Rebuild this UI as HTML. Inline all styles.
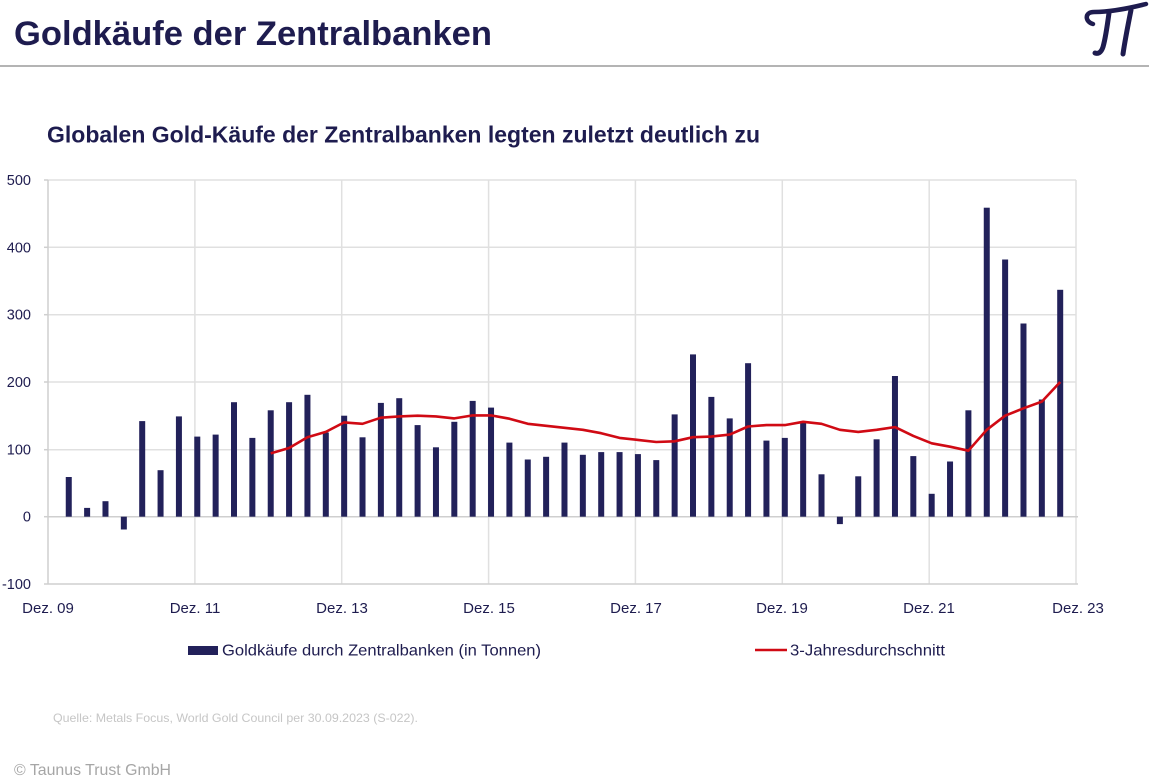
<!DOCTYPE html>
<html><head><meta charset="utf-8"><style>
html,body{margin:0;padding:0;background:#fff;}
svg{display:block;}
</style></head><body>
<svg width="1149" height="783" viewBox="0 0 1149 783" xmlns="http://www.w3.org/2000/svg" font-family="'Liberation Sans', sans-serif">
<rect width="1149" height="783" fill="#fff"/>
<text x="14" y="45" font-size="34" font-weight="bold" fill="#1e1c4f" textLength="478" lengthAdjust="spacingAndGlyphs">Goldkäufe der Zentralbanken</text>
<g fill="none" stroke="#1e1c4f" stroke-linecap="round">
<path d="M1093,24 C1085,22 1084,12 1094,12 C1112,12 1130,8 1146,4" stroke-width="4.5"/>
<path d="M1109,13 C1107,28 1105,40 1103,47 C1101,53 1098,54 1095,53" stroke-width="5"/>
<path d="M1131,10 C1128,25 1125,40 1123,54" stroke-width="5"/>
</g>
<rect x="0" y="65" width="1149" height="2" fill="#b4b4b4"/>
<text x="47" y="142.7" font-size="23" font-weight="bold" fill="#1e1c4f" textLength="713" lengthAdjust="spacingAndGlyphs">Globalen Gold-Käufe der Zentralbanken legten zuletzt deutlich zu</text>
<g stroke="#e0e0e0" stroke-width="1.5">
<line x1="48" y1="180" x2="1076" y2="180"/>
<line x1="48" y1="247.3" x2="1076" y2="247.3"/>
<line x1="48" y1="314.7" x2="1076" y2="314.7"/>
<line x1="48" y1="382" x2="1076" y2="382"/>
<line x1="48" y1="449.7" x2="1076" y2="449.7"/>
<line x1="194.9" y1="180" x2="194.9" y2="584"/>
<line x1="341.7" y1="180" x2="341.7" y2="584"/>
<line x1="488.6" y1="180" x2="488.6" y2="584"/>
<line x1="635.4" y1="180" x2="635.4" y2="584"/>
<line x1="782.3" y1="180" x2="782.3" y2="584"/>
<line x1="929.2" y1="180" x2="929.2" y2="584"/>
<line x1="1076" y1="180" x2="1076" y2="584"/>
</g>
<g stroke="#cfcfcf" stroke-width="1.5">
<line x1="48" y1="516.7" x2="1078" y2="516.7"/>
<line x1="48" y1="584" x2="1078" y2="584"/>
<line x1="48" y1="180" x2="48" y2="584"/>
<line x1="44" y1="180" x2="48" y2="180"/>
<line x1="44" y1="247.3" x2="48" y2="247.3"/>
<line x1="44" y1="314.7" x2="48" y2="314.7"/>
<line x1="44" y1="382" x2="48" y2="382"/>
<line x1="44" y1="449.7" x2="48" y2="449.7"/>
<line x1="44" y1="516.7" x2="48" y2="516.7"/>
<line x1="44" y1="584" x2="48" y2="584"/>
</g>
<g fill="#1e1c4f" font-size="14.5" text-anchor="end">
<text x="31" y="185">500</text>
<text x="31" y="252.3">400</text>
<text x="31" y="319.7">300</text>
<text x="31" y="387">200</text>
<text x="31" y="454.7">100</text>
<text x="31" y="521.7">0</text>
<text x="31" y="589">-100</text>
</g>
<g fill="#1e1c4f" font-size="15" text-anchor="middle">
<text x="48" y="613">Dez. 09</text>
<text x="195" y="613">Dez. 11</text>
<text x="342" y="613">Dez. 13</text>
<text x="489" y="613">Dez. 15</text>
<text x="636" y="613">Dez. 17</text>
<text x="782" y="613">Dez. 19</text>
<text x="929" y="613">Dez. 21</text>
<text x="1078" y="613">Dez. 23</text>
</g>
<g fill="#22215a">
<rect x="65.76" y="477.0" width="6" height="39.7"/>
<rect x="84.12" y="507.9" width="6" height="8.8"/>
<rect x="102.48" y="501.2" width="6" height="15.5"/>
<rect x="120.84" y="516.7" width="6" height="12.8"/>
<rect x="139.2" y="421.1" width="6" height="95.6"/>
<rect x="157.56" y="470.2" width="6" height="46.5"/>
<rect x="175.92" y="416.4" width="6" height="100.3"/>
<rect x="194.28" y="436.6" width="6" height="80.1"/>
<rect x="212.64" y="434.6" width="6" height="82.1"/>
<rect x="231.0" y="402.2" width="6" height="114.5"/>
<rect x="249.36" y="437.9" width="6" height="78.8"/>
<rect x="267.72" y="410.3" width="6" height="106.4"/>
<rect x="286.08" y="402.2" width="6" height="114.5"/>
<rect x="304.44" y="394.8" width="6" height="121.9"/>
<rect x="322.8" y="432.5" width="6" height="84.2"/>
<rect x="341.16" y="415.7" width="6" height="101.0"/>
<rect x="359.52" y="437.3" width="6" height="79.4"/>
<rect x="377.88" y="402.9" width="6" height="113.8"/>
<rect x="396.24" y="398.2" width="6" height="118.5"/>
<rect x="414.6" y="425.1" width="6" height="91.6"/>
<rect x="432.96" y="447.3" width="6" height="69.4"/>
<rect x="451.32" y="421.8" width="6" height="94.9"/>
<rect x="469.68" y="400.9" width="6" height="115.8"/>
<rect x="488.04" y="407.6" width="6" height="109.1"/>
<rect x="506.4" y="442.6" width="6" height="74.1"/>
<rect x="524.76" y="459.5" width="6" height="57.2"/>
<rect x="543.12" y="456.8" width="6" height="59.9"/>
<rect x="561.48" y="442.6" width="6" height="74.1"/>
<rect x="579.84" y="454.8" width="6" height="61.9"/>
<rect x="598.2" y="452.1" width="6" height="64.6"/>
<rect x="616.56" y="452.1" width="6" height="64.6"/>
<rect x="634.92" y="454.1" width="6" height="62.6"/>
<rect x="653.28" y="460.1" width="6" height="56.6"/>
<rect x="671.64" y="414.4" width="6" height="102.3"/>
<rect x="690.0" y="354.4" width="6" height="162.3"/>
<rect x="708.36" y="396.9" width="6" height="119.8"/>
<rect x="726.72" y="418.4" width="6" height="98.3"/>
<rect x="745.08" y="363.2" width="6" height="153.5"/>
<rect x="763.44" y="440.6" width="6" height="76.1"/>
<rect x="781.8" y="437.9" width="6" height="78.8"/>
<rect x="800.16" y="422.4" width="6" height="94.3"/>
<rect x="818.52" y="474.3" width="6" height="42.4"/>
<rect x="836.88" y="516.7" width="6" height="7.4"/>
<rect x="855.24" y="476.3" width="6" height="40.4"/>
<rect x="873.6" y="439.3" width="6" height="77.4"/>
<rect x="891.96" y="376.0" width="6" height="140.7"/>
<rect x="910.32" y="456.1" width="6" height="60.6"/>
<rect x="928.68" y="493.8" width="6" height="22.9"/>
<rect x="947.04" y="461.5" width="6" height="55.2"/>
<rect x="965.4" y="410.3" width="6" height="106.4"/>
<rect x="983.76" y="207.7" width="6" height="309.0"/>
<rect x="1002.12" y="259.5" width="6" height="257.2"/>
<rect x="1020.48" y="323.5" width="6" height="193.2"/>
<rect x="1038.84" y="399.5" width="6" height="117.2"/>
<rect x="1057.2" y="289.8" width="6" height="226.9"/>
</g>
<polyline fill="none" stroke="#d00a14" stroke-width="2.6" stroke-linejoin="round" points="270.72,453.4 289.08,448.0 307.44,437.2 325.8,431.9 344.16,422.4 362.52,423.8 380.88,417.7 399.24,416.4 417.6,415.7 435.96,416.4 454.32,418.4 472.68,415.4 491.04,415.4 509.4,418.7 527.76,423.8 546.12,425.8 564.48,427.8 582.84,429.8 601.2,433.2 619.56,437.9 637.92,439.9 656.28,442.0 674.64,441.3 693.0,437.2 711.36,436.6 729.72,434.6 748.08,426.5 766.44,425.1 784.8,425.1 803.16,421.8 821.52,423.8 839.88,429.8 858.24,431.9 876.6,429.8 894.96,427.1 913.32,435.9 931.68,443.3 950.04,446.7 968.4,450.7 986.76,429.8 1005.12,415.7 1023.48,408.3 1041.84,401.6 1060.2,382.0"/>
<rect x="188" y="646" width="30" height="9" fill="#22215a"/>
<text x="222" y="655.5" font-size="16" fill="#1e1c4f" textLength="319" lengthAdjust="spacingAndGlyphs">Goldkäufe durch Zentralbanken (in Tonnen)</text>
<line x1="755" y1="650" x2="787" y2="650" stroke="#d00a14" stroke-width="2.6"/>
<text x="790" y="655.5" font-size="16" fill="#1e1c4f" textLength="155" lengthAdjust="spacingAndGlyphs">3-Jahresdurchschnitt</text>
<text x="53" y="722" font-size="12" fill="#c6c6c6" textLength="365" lengthAdjust="spacingAndGlyphs">Quelle: Metals Focus, World Gold Council per 30.09.2023 (S-022).</text>
<text x="14" y="775" font-size="16" fill="#a6a6a6" textLength="157" lengthAdjust="spacingAndGlyphs">© Taunus Trust GmbH</text>
</svg>
</body></html>
